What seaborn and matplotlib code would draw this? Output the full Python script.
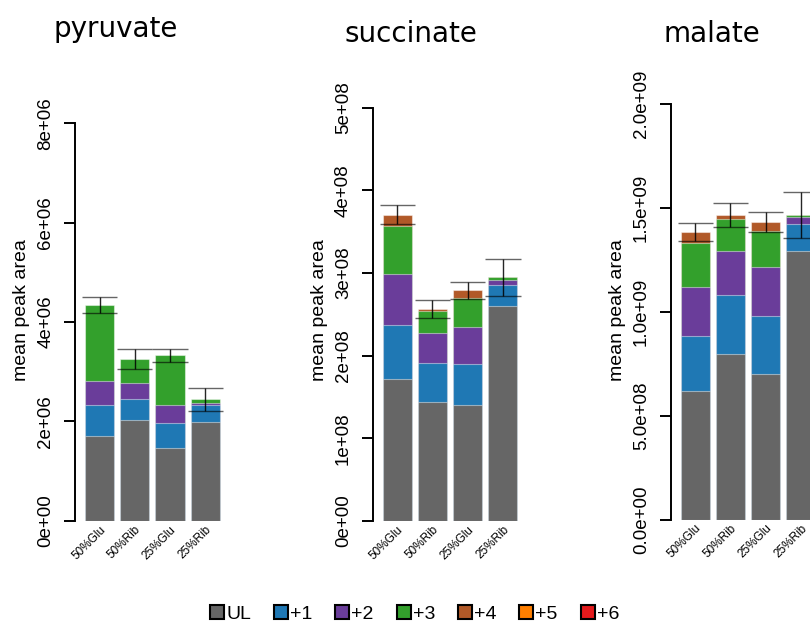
import numpy as np
import pandas as pd
import matplotlib
matplotlib.use("Agg")
import matplotlib.pyplot as plt
import seaborn as sns
from matplotlib.patches import Patch

# ---------------- data ----------------
conditions = ["50%Glu", "50%Rib", "25%Glu", "25%Rib"]
isotopologues = ["UL", "+1", "+2", "+3", "+4", "+5", "+6"]
iso_colors = ["#666666", "#1F78B4", "#6A3D9A", "#33A02C", "#B15928", "#FF7F00", "#E31A1C"]
metabolites = ["pyruvate", "succinate", "malate"]

# layer values, rows = isotopologues (UL..+6), columns = conditions
pyruvate_values = [
    [1.71e6, 2.03e6, 1.46e6, 1.99e6],
    [0.62e6, 0.42e6, 0.50e6, 0.33e6],
    [0.48e6, 0.32e6, 0.36e6, 0.04e6],
    [1.53e6, 0.48e6, 1.01e6, 0.08e6],
    [0.0, 0.0, 0.0, 0.0],
    [0.0, 0.0, 0.0, 0.0],
    [0.0, 0.0, 0.0, 0.0],
]
pyruvate_err = [0.155e6, 0.205e6, 0.13e6, 0.24e6]

succinate_values = [
    [1.718e8, 1.443e8, 1.400e8, 2.605e8],
    [0.653e8, 0.468e8, 0.503e8, 0.246e8],
    [0.619e8, 0.367e8, 0.440e8, 0.064e8],
    [0.575e8, 0.258e8, 0.351e8, 0.033e8],
    [0.140e8, 0.032e8, 0.096e8, 0.0],
    [0.0, 0.0, 0.0, 0.0],
    [0.0, 0.0, 0.0, 0.0],
]
succinate_err = [0.115e8, 0.107e8, 0.10e8, 0.225e8]

malate_values = [
    [0.619e9, 0.795e9, 0.701e9, 1.290e9],
    [0.263e9, 0.286e9, 0.279e9, 0.130e9],
    [0.236e9, 0.212e9, 0.233e9, 0.033e9],
    [0.213e9, 0.151e9, 0.176e9, 0.013e9],
    [0.050e9, 0.020e9, 0.043e9, 0.0],
    [0.0, 0.0, 0.0, 0.0],
    [0.0, 0.0, 0.0, 0.0],
]
malate_err = [0.043e9, 0.059e9, 0.049e9, 0.11e9]

pyruvate_ticks = [0, 2e6, 4e6, 6e6, 8e6]
pyruvate_ticklabels = ["0e+00", "2e+06", "4e+06", "6e+06", "8e+06"]
succinate_ticks = [0, 1e8, 2e8, 3e8, 4e8, 5e8]
succinate_ticklabels = ["0e+00", "1e+08", "2e+08", "3e+08", "4e+08", "5e+08"]
malate_ticks = [0, 5e8, 1e9, 1.5e9, 2e9]
malate_ticklabels = ["0.0e+00", "5.0e+08", "1.0e+09", "1.5e+09", "2.0e+09"]

# ---------------- style ----------------
sns.set_style("white")
plt.rcParams["font.family"] = ["Liberation Sans", "DejaVu Sans"]
plt.rcParams["text.color"] = "black"
plt.rcParams["xtick.color"] = "black"
plt.rcParams["ytick.color"] = "black"

W, H = 810, 622
fig = plt.figure(figsize=(W / 100, H / 100), dpi=100)


def px_axes(left, top, right, bottom):
    return fig.add_axes([left / W, 1 - bottom / H, (right - left) / W, (bottom - top) / H])


panels = [
    dict(name=metabolites[0], values=pyruvate_values, err=pyruvate_err,
         ticks=pyruvate_ticks, labels=pyruvate_ticklabels,
         left=75.0, top=123.3, bottom=520.7, tx=115.7, ty=36.7),
    dict(name=metabolites[1], values=succinate_values, err=succinate_err,
         ticks=succinate_ticks, labels=succinate_ticklabels,
         left=372.7, top=107.7, bottom=521.0, tx=411.0, ty=41.7),
    dict(name=metabolites[2], values=malate_values, err=malate_err,
         ticks=malate_ticks, labels=malate_ticklabels,
         left=670.7, top=103.7, bottom=519.5, tx=711.5, ty=41.7),
]

pitch = 35.25
x_start = -24.5 / pitch
width_px = 170

for p in panels:
    ax = px_axes(p["left"], p["top"], p["left"] + width_px, p["bottom"])
    vals = np.array(p["values"])
    cum = vals.cumsum(axis=0)
    rows = []
    for k, iso in enumerate(isotopologues):
        for j, c in enumerate(conditions):
            rows.append(dict(condition=c, iso=iso, cum=cum[k, j]))
    df = pd.DataFrame(rows)
    for k in reversed(range(len(isotopologues))):
        if vals[k].sum() == 0:
            continue
        sub = df[df["iso"] == isotopologues[k]]
        sns.barplot(data=sub, x="condition", y="cum", order=conditions,
                    color=iso_colors[k], saturation=1, width=0.823,
                    errorbar=None, edgecolor=(1, 1, 1, 0.45), linewidth=0.8,
                    ax=ax)
    total = cum[-1]
    err = np.array(p["err"])
    xs = np.arange(len(conditions))
    lo, hi = total - err, total + err
    ax.vlines(xs, lo, hi, color="black", lw=1.0, alpha=0.85, clip_on=False, zorder=5)
    ax.hlines(lo, xs - 0.5, xs + 0.5, color="black", lw=1.0, alpha=0.6, clip_on=False, zorder=5)
    ax.hlines(hi, xs - 0.5, xs + 0.5, color="black", lw=1.0, alpha=0.6, clip_on=False, zorder=5)

    ax.set_xlim(x_start, x_start + width_px / pitch)
    ax.set_ylim(0, p["ticks"][-1])
    ax.set_xlabel("")
    ax.set_ylabel("")
    ax.set_facecolor("none")
    for s in ["top", "right", "bottom"]:
        ax.spines[s].set_visible(False)
    ax.spines["left"].set_linewidth(1.4)
    ax.spines["left"].set_color("black")

    ax.set_yticks(p["ticks"], p["labels"])
    ax.tick_params(axis="y", length=8, width=1.4, pad=7, labelsize=13.5,
                   direction="out", left=True, color="black", labelcolor="black")
    for lbl in ax.get_yticklabels():
        lbl.set_rotation(90)
        lbl.set_va("center")
        lbl.set_ha("right")
        lbl.set_fontsize(13.5)

    ax.set_xticks(xs, conditions)
    ax.tick_params(axis="x", length=0, pad=2, labelsize=8.5, labelcolor="black")
    for lbl in ax.get_xticklabels():
        lbl.set_rotation(45)
        lbl.set_ha("right")
        lbl.set_va("top")
        lbl.set_rotation_mode("anchor")
        lbl.set_fontsize(8.5)

    fig.text((p["left"] - 48.5) / W, 1 - 310 / H, "mean peak area", rotation=90,
             rotation_mode="anchor", ha="center", va="baseline", fontsize=14)
    fig.text(p["tx"] / W, 1 - p["ty"] / H, p["name"], ha="center", va="baseline",
             fontsize=20, family="DejaVu Sans")

handles = [Patch(facecolor=c, edgecolor="black", linewidth=1.5) for c in iso_colors]
fig.legend(handles, isotopologues, loc="center", bbox_to_anchor=(414.7 / W, 1 - 614 / H),
           ncol=7, frameon=False, fontsize=14, handlelength=0.72, handleheight=0.72,
           handletextpad=0.1, columnspacing=1.18, borderpad=0, borderaxespad=0)

fig.savefig("out.png", dpi=100)
